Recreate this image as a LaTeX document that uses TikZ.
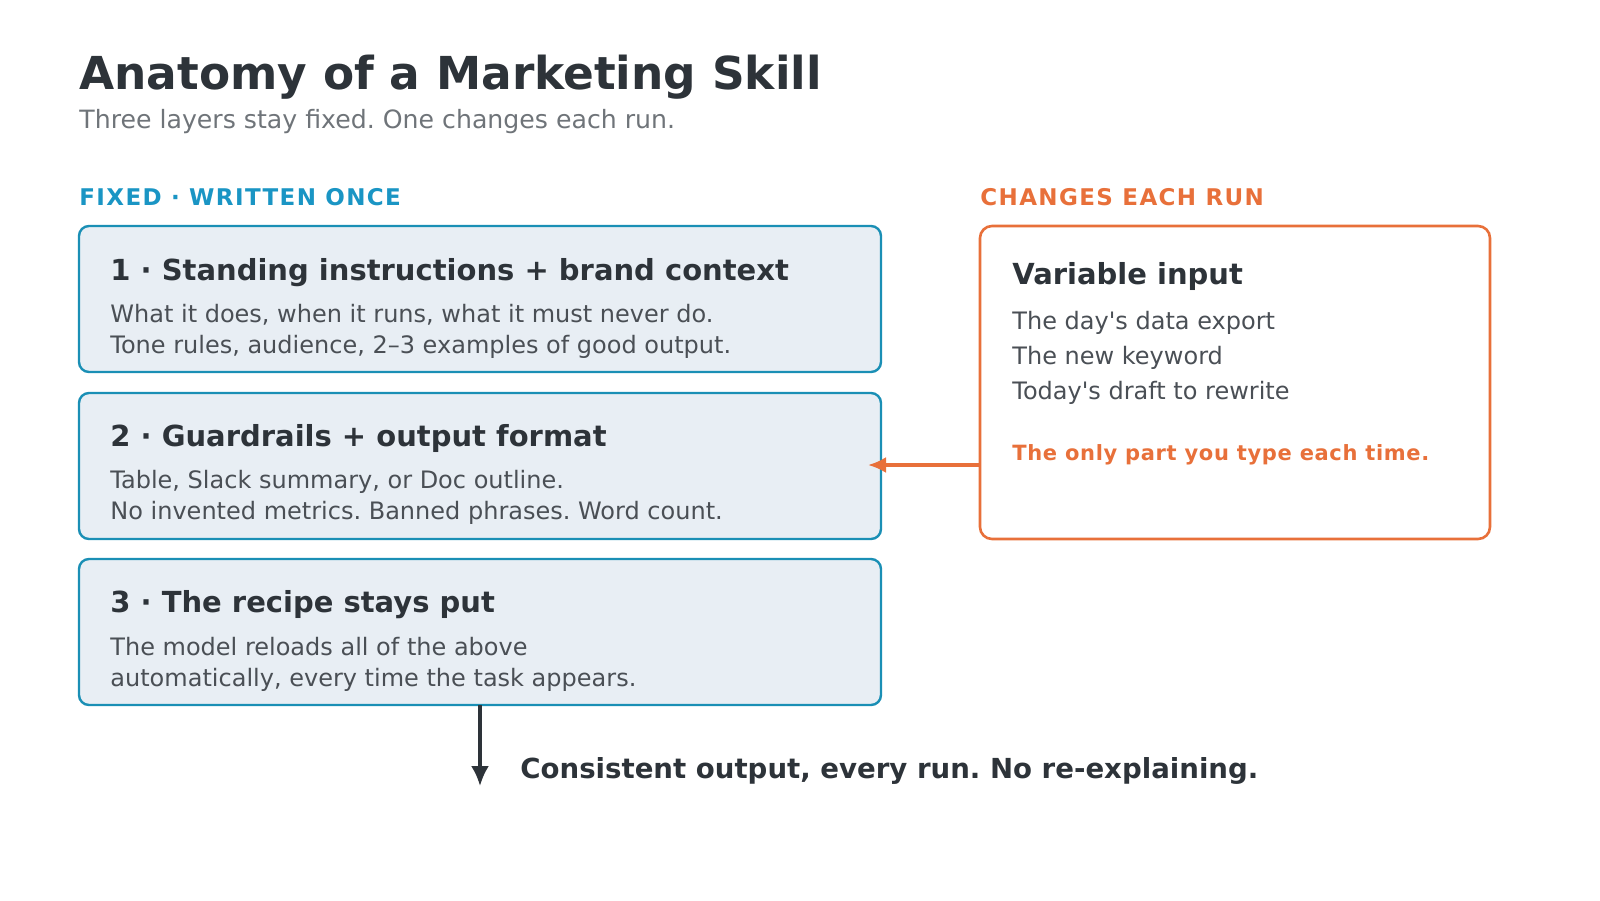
\documentclass[tikz,border=0pt]{standalone}
\usepackage{fontspec}
\setmainfont{DejaVu Sans}
\usetikzlibrary{arrows.meta}
\definecolor{ink}{HTML}{2D3339}
\definecolor{body}{HTML}{4A4F55}
\definecolor{sub}{HTML}{6F7479}
\definecolor{teal}{HTML}{1A8FB5}
\definecolor{lab}{HTML}{1A95C4}
\definecolor{boxfill}{HTML}{E8EEF4}
\definecolor{orng}{HTML}{E8703A}
\frenchspacing
\begin{document}
\begin{tikzpicture}[x=0.5pt,y=-0.5pt,
  box/.style={draw=teal,line width=1.2pt,fill=boxfill,rounded corners=5pt},
  obox/.style={draw=orng,line width=1.3pt,fill=white,rounded corners=6pt},
  t/.style={anchor=base west,inner sep=0pt},
  btitle/.style={t,font=\fontsize{14.5}{16}\selectfont\bfseries,text=ink},
  btext/.style={t,font=\fontsize{12}{14}\selectfont,text=body},
  lbl/.style={t,font=\fontsize{11.5}{13}\selectfont\bfseries\addfontfeature{LetterSpace=6}}]
\useasboundingbox (0,0) rectangle (1600,900);
\node[t,font=\fontsize{22.7}{26}\selectfont\bfseries,text=ink] (title) at (79,89) {Anatomy of a Marketing Skill};
\node[t,font=\fontsize{12.6}{14}\selectfont,text=sub] (subt) at (79,128) {Three layers stay fixed. One changes each run.};
\node[lbl,text=lab] (lf) at (79,205) {FIXED · WRITTEN ONCE};
\node[lbl,text=orng] (lc) at (980,205) {CHANGES EACH RUN};
\draw[box] (79,226) rectangle (881,372);
\draw[box] (79,393) rectangle (881,539);
\draw[box] (79,559) rectangle (881,705);
\node[btitle] (b1) at (110,280) {1 · Standing instructions + brand context};
\node[btext] (b1a) at (110,322) {What it does, when it runs, what it must never do.};
\node[btext] (b1b) at (110,353) {Tone rules, audience, 2–3 examples of good output.};
\node[btitle] (b2) at (110,446) {2 · Guardrails + output format};
\node[btext] (b2a) at (110,488) {Table, Slack summary, or Doc outline.};
\node[btext] (b2b) at (110,519) {No invented metrics. Banned phrases. Word count.};
\node[btitle] (b3) at (110,612) {3 · The recipe stays put};
\node[btext] (b3a) at (110,655) {The model reloads all of the above};
\node[btext] (b3b) at (110,686) {automatically, every time the task appears.};
\draw[obox] (980,226) rectangle (1490,539);
\node[btitle] (v) at (1012,284) {Variable input};
\node[btext] (v1) at (1012,329) {The day\textquotesingle s data export};
\node[btext] (v2) at (1012,364) {The new keyword};
\node[btext] (v3) at (1012,399) {Today\textquotesingle s draft to rewrite};
\node[t,font=\fontsize{10.5}{12}\selectfont\bfseries\addfontfeature{LetterSpace=3},text=orng] (v4) at (1012,460) {The only part you type each time.};
\coordinate (as) at (980,465);
\coordinate (ae) at (868,465);
\draw[orng,line width=1.6pt,-{Latex[length=9pt,width=8pt]}] (as) -- (ae);
\coordinate (ds) at (480,705);
\coordinate (de) at (480,786);
\draw[ink,line width=1.6pt,-{Latex[length=10pt,width=9pt]}] (ds) -- (de);
\node[t,font=\fontsize{13.8}{16}\selectfont\bfseries,text=ink] (res) at (520,778) {Consistent output, every run. No re-explaining.};
\end{tikzpicture}
\end{document}
